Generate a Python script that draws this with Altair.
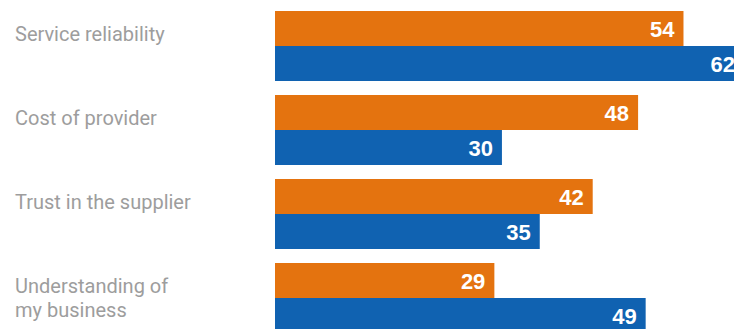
import altair as alt
import pandas as pd

categories = ["Service reliability", "Cost of provider", "Trust in the supplier", "Understanding of my business"]
display_labels = ["Service reliability", "Cost of provider", "Trust in the supplier", "Understanding of\nmy business"]
series = ["Orange", "Blue"]
orange_values = [54, 48, 42, 29]
blue_values = [62, 30, 35, 49]
colors = ["#E4730F", "#1062B1"]

rows = []
for c, o, b in zip(categories, orange_values, blue_values):
    rows.append({"category": c, "series": "Orange", "value": o})
    rows.append({"category": c, "series": "Blue", "value": b})
df = pd.DataFrame(rows)
labels_df = pd.DataFrame({"category": categories, "label": display_labels})

y_enc = alt.Y("category:N", sort=categories, axis=None,
              scale=alt.Scale(paddingInner=14 / 84, paddingOuter=0))
x_enc = alt.X("value:Q", axis=None, scale=alt.Scale(domain=[0, 62], nice=False))
yoff = alt.YOffset("series:N", sort=series, scale=alt.Scale(paddingInner=0, paddingOuter=0))

bars = alt.Chart(df).mark_bar(cornerRadius=0).encode(
    x=x_enc, y=y_enc, yOffset=yoff,
    color=alt.Color("series:N", sort=series, scale=alt.Scale(domain=series, range=colors), legend=None),
)

values = alt.Chart(df).mark_text(
    align="right", baseline="middle", dx=-9, dy=1, color="white",
    font="Liberation Sans", fontWeight="bold", fontSize=22,
).encode(x=x_enc, y=y_enc, yOffset=yoff, text=alt.Text("value:Q"))

cats = alt.Chart(labels_df).mark_text(
    align="left", baseline="alphabetic", dy=-5, color="#9D9D9D",
    font="Roboto", fontSize=20, lineBreak="\n", lineHeight=24,
).encode(x=alt.value(-260), y=y_enc, text="label:N")

chart = alt.layer(bars, values, cats).properties(
    width=469, height=322,
    autosize=alt.AutoSizeParams(type="none"),
    padding={"left": 267, "top": 3, "right": -10, "bottom": 0},
).configure_view(stroke=None)

chart.save("out.html", embed_options={"renderer": "svg", "actions": False})
